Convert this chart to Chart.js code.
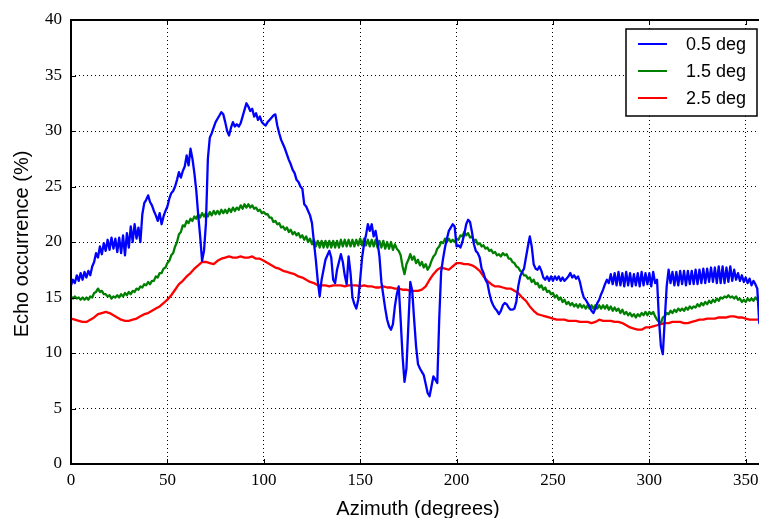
<!DOCTYPE html>
<html>
<head>
<meta charset="utf-8">
<script src="https://cdn.jsdelivr.net/npm/chart.js@4"></script>
<style>
  html, body { margin: 0; padding: 0; background: #fff; overflow: hidden; }
  #wrap { width: 775px; height: 518px; }
</style>
</head>
<body>
<div id="wrap"><canvas id="echoChart" width="775" height="518"></canvas></div>
<script>
// azimuth in degrees, 1 deg steps for blue/green, 2 deg for red
const azimuthFine = Array.from({ length: 361 }, (_, i) => i);
const azimuthCoarse = Array.from({ length: 181 }, (_, i) => i * 2);

const xTicks = [0, 50, 100, 150, 200, 250, 300, 350];
const yTicks = [0, 5, 10, 15, 20, 25, 30, 35, 40];
const seriesLabels = ['0.5 deg', '1.5 deg', '2.5 deg'];

const echo05 = [
  16.1,16.6,16.3,17.0,16.5,17.2,16.6,17.3,16.8,17.4,17.0,17.8,18.2,19.0,18.6,19.6,18.9,19.9,19.2,20.2,
  19.3,20.4,19.4,20.3,19.1,20.4,19.0,20.6,18.8,20.8,19.5,21.4,20.0,21.6,20.3,21.3,20.0,22.5,23.5,23.8,
  24.2,23.6,23.3,22.8,22.4,21.9,22.6,21.6,22.3,22.8,23.2,23.9,24.4,24.6,25.0,25.6,26.3,25.8,26.4,26.8,
  27.8,26.9,28.4,27.5,26.2,24.6,22.4,20.5,18.3,19.2,21.7,27.5,29.4,29.8,30.3,30.8,31.1,31.4,31.7,31.5,
  30.8,30.0,29.6,30.3,30.8,30.4,30.6,30.4,30.7,31.3,31.9,32.5,32.2,31.8,32.0,31.3,31.6,31.0,31.3,30.8,
  30.6,30.5,30.8,31.0,31.2,31.4,31.5,30.5,29.8,29.2,28.8,28.4,27.9,27.4,27.0,26.5,26.2,25.6,25.4,25.0,
  24.8,23.4,23.2,22.8,22.4,21.7,20.0,18.4,16.5,15.1,16.6,17.5,18.4,18.8,19.2,18.6,16.6,16.3,17.5,18.2,
  18.9,18.2,17.0,16.2,18.7,17.2,15.0,14.4,14.0,14.8,16.6,18.6,19.8,20.6,21.6,21.0,21.6,20.5,21.0,20.0,
  18.7,16.4,15.2,14.0,13.0,12.4,12.1,12.6,14.2,15.3,16.0,13.0,9.7,7.4,8.6,12.5,16.4,15.6,13.0,10.6,
  9.0,8.6,8.3,8.0,7.2,6.4,6.1,7.0,7.9,7.6,7.3,13.0,17.3,18.5,19.5,20.3,21.0,21.3,21.6,21.4,
  19.6,19.7,19.5,20.0,20.7,21.6,22.0,21.8,20.9,19.8,19.2,19.0,18.6,17.6,17.2,16.6,16.3,15.4,14.7,14.3,
  14.0,13.8,13.5,13.8,14.3,14.5,14.4,14.1,13.9,13.9,14.0,14.6,16.0,16.9,17.3,17.6,18.6,19.6,20.5,19.6,
  18.0,17.6,17.5,17.8,17.4,16.8,16.6,16.9,16.5,16.9,16.5,16.9,16.6,16.9,16.5,16.8,16.5,16.7,16.9,17.2,
  16.8,17.0,16.7,16.9,16.4,15.6,15.0,14.8,14.5,14.2,13.8,13.6,14.0,14.5,14.8,15.3,15.7,16.2,16.6,16.3,
  17.1,16.2,17.2,16.1,17.3,16.1,17.2,16.0,17.3,16.1,17.2,16.0,17.1,16.1,17.2,16.0,17.3,16.1,17.2,16.2,
  17.2,16.0,17.3,16.3,16.6,13.0,10.6,9.9,13.0,16.0,17.5,16.3,17.3,16.1,17.3,16.1,17.4,16.2,17.4,16.1,
  17.4,16.2,17.4,16.2,17.5,16.2,17.5,16.3,17.6,16.3,17.6,16.4,17.7,16.4,17.7,16.3,17.8,16.3,17.8,16.3,
  17.7,16.4,17.8,16.5,17.5,16.6,17.2,16.5,17.0,16.4,16.8,16.3,16.7,16.1,16.5,16.2,15.8,12.7,12.5,12.5,
  12.5
];

const echo15 = [
  15.1,14.9,15.1,14.9,15.0,14.8,15.0,14.8,15.0,14.8,15.1,15.0,15.4,15.5,15.8,15.5,15.6,15.3,15.3,15.1,
  15.2,14.9,15.1,15.0,15.2,15.0,15.3,15.1,15.4,15.2,15.5,15.3,15.6,15.5,15.8,15.7,16.0,15.9,16.2,16.1,
  16.4,16.2,16.5,16.5,16.9,16.8,17.2,17.2,17.6,17.7,18.1,18.3,18.8,19.0,19.6,20.0,20.7,20.9,21.5,21.4,
  21.9,21.7,22.1,21.9,22.3,22.1,22.5,22.2,22.6,22.3,22.6,22.3,22.7,22.4,22.8,22.5,22.8,22.5,22.9,22.6,
  22.9,22.6,23.0,22.7,23.1,22.8,23.1,22.9,23.3,23.0,23.4,23.1,23.4,23.1,23.3,23.0,23.1,22.8,22.9,22.6,
  22.7,22.5,22.5,22.2,22.2,21.8,21.9,21.6,21.7,21.3,21.4,21.1,21.3,20.9,21.1,20.7,20.9,20.6,20.8,20.4,
  20.6,20.2,20.5,20.0,20.3,19.8,20.2,19.6,20.1,19.5,20.1,19.5,20.1,19.5,20.1,19.5,20.1,19.5,20.1,19.5,
  20.2,19.6,20.2,19.6,20.2,19.6,20.2,19.6,20.2,19.7,20.3,19.7,20.3,19.7,20.2,19.6,20.2,19.6,20.2,19.5,
  20.1,19.5,20.1,19.4,20.0,19.4,20.0,19.3,19.8,19.4,19.2,18.8,17.8,17.1,18.0,18.4,18.9,18.4,18.7,18.1,
  18.4,17.9,18.2,17.7,18.0,17.5,17.8,18.3,18.7,18.9,19.4,19.6,20.0,19.9,20.3,20.0,20.3,20.0,20.2,20.0,
  20.3,20.2,20.6,20.5,20.9,20.6,20.8,20.4,20.5,20.1,20.2,19.8,19.9,19.6,19.7,19.4,19.5,19.2,19.3,19.0,
  19.1,18.8,18.9,18.7,19.0,18.8,18.9,18.5,18.5,18.2,18.1,17.8,17.7,17.4,17.3,17.0,17.0,16.7,16.8,16.4,
  16.6,16.2,16.3,15.9,16.1,15.7,15.9,15.5,15.6,15.3,15.4,15.0,15.2,14.8,15.0,14.6,14.8,14.4,14.6,14.3,
  14.5,14.2,14.4,14.1,14.4,14.1,14.3,14.0,14.3,14.0,14.3,14.0,14.3,14.0,14.3,14.0,14.3,14.0,14.3,13.9,
  14.2,13.8,14.1,13.8,14.0,13.6,13.9,13.5,13.7,13.4,13.6,13.3,13.5,13.2,13.5,13.3,13.6,13.4,13.7,13.4,
  13.7,13.5,13.7,13.3,13.0,12.8,12.7,13.2,13.3,13.6,13.5,13.8,13.6,13.9,13.7,14.0,13.8,14.0,13.8,14.1,
  13.9,14.2,14.0,14.2,14.1,14.4,14.2,14.5,14.3,14.6,14.4,14.7,14.5,14.8,14.6,14.9,14.7,15.0,14.9,15.1,
  15.0,15.2,15.0,15.1,14.9,15.1,14.8,14.9,14.6,14.8,14.6,14.9,14.7,14.9,14.7,15.0,14.8,15.0,14.9,15.0,
  15.0
];

const echo25 = [
  13.1,13.0,12.9,12.8,12.8,13.0,13.2,13.5,13.6,13.7,13.6,13.4,13.2,13.0,12.9,12.9,13.0,13.1,13.3,13.5,
  13.6,13.8,14.0,14.2,14.5,14.8,15.2,15.7,16.2,16.5,16.9,17.2,17.6,17.9,18.2,18.2,18.1,18.0,18.3,18.5,
  18.6,18.7,18.6,18.6,18.7,18.6,18.6,18.7,18.5,18.5,18.3,18.1,17.9,17.7,17.6,17.4,17.3,17.2,17.1,16.9,
  16.8,16.6,16.4,16.3,16.1,16.1,16.1,16.0,16.1,16.1,16.1,16.0,16.1,16.1,16.1,16.0,16.1,16.0,16.0,15.9,
  15.9,16.0,15.9,15.9,15.8,15.8,15.7,15.7,15.6,15.6,15.6,15.7,16.0,16.6,17.1,17.5,17.7,17.6,17.5,17.8,
  18.1,18.1,18.0,18.0,17.9,17.7,17.4,16.9,16.5,16.2,16.0,16.0,15.9,15.8,15.8,15.6,15.4,15.0,14.7,14.2,
  13.8,13.5,13.4,13.3,13.2,13.1,13.0,13.0,13.0,12.9,12.9,12.9,12.8,12.8,12.8,12.7,12.8,13.0,12.9,12.9,
  12.9,12.8,12.8,12.7,12.5,12.3,12.2,12.1,12.1,12.3,12.3,12.4,12.5,12.6,12.7,12.7,12.8,12.8,12.8,12.7,
  12.7,12.8,12.9,13.0,13.0,13.1,13.1,13.1,13.2,13.2,13.2,13.3,13.3,13.2,13.2,13.1,13.0,13.0,13.0,13.0,
  13.0
];

const colors = ['#0000ff', '#008000', '#ff0000'];

function toPoints(xs, ys) {
  return xs.map((x, i) => ({ x: x, y: ys[i] }));
}

// inside tick marks, frame, axis titles and legend box (matplotlib look)
const mplFrame = {
  id: 'mplFrame',
  afterDatasetsDraw(chart) {
    const ctx = chart.ctx;
    const area = chart.chartArea;
    const xs = chart.scales.x;
    const ys = chart.scales.y;
    ctx.save();
    ctx.strokeStyle = '#000';
    ctx.lineWidth = 1;
    xTicks.forEach(v => {
      const px = Math.round(xs.getPixelForValue(v)) + 0.5;
      ctx.beginPath();
      ctx.moveTo(px, area.bottom); ctx.lineTo(px, area.bottom - 5);
      ctx.moveTo(px, area.top); ctx.lineTo(px, area.top + 5);
      ctx.stroke();
    });
    yTicks.forEach(v => {
      const py = Math.round(ys.getPixelForValue(v)) + 0.5;
      ctx.beginPath();
      ctx.moveTo(area.left, py); ctx.lineTo(area.left + 5, py);
      ctx.moveTo(area.right, py); ctx.lineTo(area.right - 5, py);
      ctx.stroke();
    });
    ctx.lineWidth = 2;
    ctx.strokeRect(area.left, area.top, area.right - area.left, area.bottom - area.top);

    // axis titles
    ctx.fillStyle = '#000';
    ctx.font = '20px "Liberation Sans", Arial, sans-serif';
    ctx.textAlign = 'center';
    ctx.textBaseline = 'alphabetic';
    ctx.fillText('Azimuth (degrees)', (area.left + area.right) / 2, 515);
    ctx.save();
    ctx.translate(28, (area.top + area.bottom) / 2 + 2);
    ctx.rotate(-Math.PI / 2);
    ctx.fillText('Echo occurrence (%)', 0, 0);
    ctx.restore();

    // legend
    const bx = 626, by = 29, bw = 131, bh = 87;
    ctx.fillStyle = '#fff';
    ctx.fillRect(bx, by, bw, bh);
    ctx.lineWidth = 1.5;
    ctx.strokeRect(bx, by, bw, bh);
    ctx.font = '18px "Liberation Sans", Arial, sans-serif';
    ctx.textAlign = 'left';
    ctx.textBaseline = 'middle';
    chart.data.datasets.forEach((ds, i) => {
      const ly = 44 + i * 27;
      ctx.strokeStyle = ds.borderColor;
      ctx.lineWidth = 2;
      ctx.beginPath();
      ctx.moveTo(638, ly); ctx.lineTo(667, ly);
      ctx.stroke();
      ctx.fillStyle = '#000';
      ctx.fillText(ds.label, 686, ly + 1);
    });
    ctx.restore();
  }
};

const ctx = document.getElementById('echoChart').getContext('2d');
new Chart(ctx, {
  type: 'line',
  data: {
    datasets: [
      { label: seriesLabels[0], data: toPoints(azimuthFine, echo05), borderColor: colors[0] },
      { label: seriesLabels[1], data: toPoints(azimuthFine, echo15), borderColor: colors[1] },
      { label: seriesLabels[2], data: toPoints(azimuthCoarse, echo25), borderColor: colors[2] }
    ]
  },
  options: {
    responsive: false,
    animation: false,
    layout: { padding: { top: 20, right: 10, left: 0, bottom: 0 } },
    elements: {
      line: { borderWidth: 2.3, tension: 0, fill: false, borderJoinStyle: 'round' },
      point: { radius: 0, hoverRadius: 0 }
    },
    plugins: { legend: { display: false }, tooltip: { enabled: false } },
    scales: {
      x: {
        type: 'linear',
        min: 0,
        max: 360,
        afterFit: s => { s.height = 54; },
        afterBuildTicks: s => { s.ticks = xTicks.map(v => ({ value: v })); },
        ticks: {
          color: '#000',
          padding: 6,
          maxRotation: 0,
          font: { family: '"Liberation Serif", "Times New Roman", serif', size: 17 }
        },
        grid: { color: '#000', lineWidth: 1, drawTicks: false },
        border: { display: false, dash: [1, 3] }
      },
      y: {
        min: 0,
        max: 40,
        afterFit: s => { s.width = 71; },
        afterBuildTicks: s => { s.ticks = yTicks.map(v => ({ value: v })); },
        ticks: {
          color: '#000',
          padding: 9,
          font: { family: '"Liberation Serif", "Times New Roman", serif', size: 17 }
        },
        grid: { color: '#000', lineWidth: 1, drawTicks: false },
        border: { display: false, dash: [1, 3] }
      }
    }
  },
  plugins: [mplFrame]
});
</script>
</body>
</html>
